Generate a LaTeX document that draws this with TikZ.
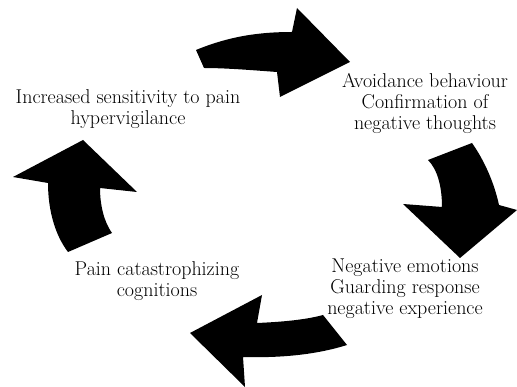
\documentclass[tikz,border=0pt]{standalone}
\usepackage{tikz}

\tikzstyle{cycle_style}=[x=1pt,y=-1pt,
  stage/.style={align=center,anchor=base,inner sep=0pt,font=\fontsize{20}{21}\selectfont},
  bigarrow/.style={fill=black,draw=none},]

\begin{document}
\begin{tikzpicture}[cycle_style]

    \useasboundingbox (0,0) rectangle (517,387);

    % Draw the stages of the cycle (anchored at the last line)
    \node[stage] (S-1) at (128,125) {Increased sensitivity to pain\\hypervigilance};
    \node[stage] (S-2) at (425,130) {Avoidance behaviour\\Confirmation of\\negative thoughts};
    \node[stage] (S-3) at (405,315) {Negative emotions\\Guarding response\\negative experience};
    \node[stage] (S-4) at (157,297) {Pain catastrophizing\\cognitions};

    % Draw the curved arrows, clockwise from the top
    \fill[bigarrow] (196,50) .. controls (230,36) and (260,32) .. (292,32)
        -- (297,8) -- (350,62) -- (280,97) -- (277,72)
        .. controls (250,70) and (225,68) .. (204,68) -- cycle;
    \fill[bigarrow] (428,160) -- (472,143)
        .. controls (484,160) and (494,182) .. (499,205)
        -- (517,210) -- (460,258) -- (403,204) -- (442,207)
        .. controls (442,188) and (438,170) .. (428,160) -- cycle;
    \fill[bigarrow] (323,315) -- (347,345)
        .. controls (315,355) and (280,358) .. (243,357)
        -- (245,387) -- (190,333) -- (262,295) -- (257,323)
        .. controls (280,322) and (305,320) .. (323,315) -- cycle;
    \fill[bigarrow] (68,252) .. controls (55,235) and (48,210) .. (48,183)
        -- (13,177) -- (83,140) -- (137,192) -- (100,188)
        .. controls (100,205) and (104,222) .. (112,233) -- cycle;

\end{tikzpicture}
\end{document}
